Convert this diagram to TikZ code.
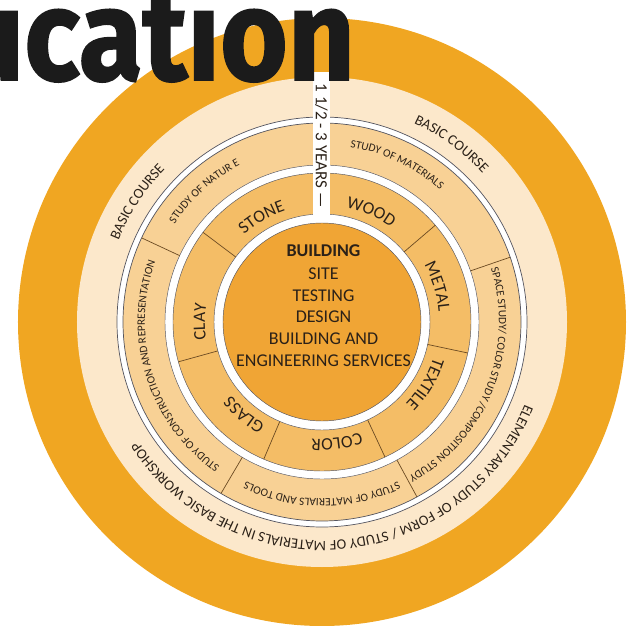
\documentclass[tikz,border=0pt]{standalone}
\usepackage{fontspec}
\setmainfont{Carlito}
\newfontfamily\titlefont{Fira Sans}[BoldFeatures={FakeBold=1.3}]
\usetikzlibrary{decorations.text}

\definecolor{outerorange}{HTML}{F0A622}
\definecolor{creamring}{HTML}{FCE8CB}
\definecolor{studyring}{HTML}{F8D195}
\definecolor{materialring}{HTML}{F4BD66}
\definecolor{corefill}{HTML}{F0A535}
\definecolor{labelink}{HTML}{2B2118}
\definecolor{edgeline}{HTML}{55555F}
\definecolor{dividerline}{HTML}{6B4A22}
\definecolor{titleink}{HTML}{1B1B1B}

\newcommand\courseft{\fontsize{14.5}{16}\selectfont}
\newcommand\studyft{\fontsize{11.3}{13}\selectfont}
\newcommand\materialft{\fontsize{17.5}{20}\selectfont}

% text set along a clockwise arc: radius, start angle, end angle, text
\newcommand\ringtext[4]{%
  \path[decorate, decoration={text along path, text align=center,
      text color=labelink, text={#4}}]
    (#2:#1) arc[start angle=#2, end angle=#3, radius=#1];}

\tikzset{
  ringedge/.style={draw=edgeline, line width=0.45pt},
  divider/.style={draw=dividerline, line width=0.7pt},
  corelabel/.style={anchor=base, inner sep=0pt, text=labelink,
      font=\fontsize{18}{20}\selectfont},
}

\begin{document}
\begin{tikzpicture}[x=1pt, y=1pt]
  \clip (-322,-304) rectangle (315,322);

  % concentric rings
  \fill[outerorange] (0,0) circle[radius=304pt];
  \fill[creamring] (0,0) circle[radius=245pt];
  \filldraw[fill=white, draw=edgeline, line width=0.7pt] (0,0) circle[radius=205pt];
  \filldraw[fill=studyring, draw=edgeline, line width=0.7pt] (0,0) circle[radius=199pt];
  \path[fill=white, ringedge] (0,0) circle[radius=157pt];
  \path[fill=materialring, ringedge] (0,0) circle[radius=149pt];
  \path[fill=white, ringedge] (0,0) circle[radius=108pt];
  \path[fill=corefill, ringedge] (0,0) circle[radius=99pt];

  % section dividers of the study ring
  \foreach \a in {155, 239.5, 298.5, 19}
    \draw[divider] (\a:157pt) -- (\a:199pt);
  % section dividers of the materials ring
  \foreach \a in {143, 195.5, 247, 295, 348, 40.5}
    \draw[divider] (\a:108pt) -- (\a:149pt);

  % duration bar
  \fill[white] (-9,107) rectangle (8,250);
  \node (years) [rotate=-90, inner sep=0pt, text=labelink,
      font=\fontsize{17}{19}\selectfont] at (-0.5,176.5) {1 1/2 - 3 YEARS —};

  % outer course ring
  \ringtext{219pt}{180}{114}{|\courseft|BASIC COURSE}
  \ringtext{219pt}{87}{21}{|\courseft|BASIC COURSE}
  \ringtext{219pt}{-5}{-164}{|\courseft|ELEMENTARY STUDY OF FORM / STUDY OF MATERIALS IN THE BASIC WORKSHOP}

  % study ring
  \ringtext{177pt}{152}{112}{|\studyft|STUDY OF NATUR E}
  \ringtext{177pt}{88}{41}{|\studyft|STUDY OF MATERIALS}
  \ringtext{177pt}{18}{-61}{|\studyft|SPACE STUDY/ COLOR STUDY /COMPOSITION STUDY}
  \ringtext{177pt}{-62}{-118}{|\studyft|STUDY OF MATERIALS AND TOOLS}
  \ringtext{177pt}{-121}{-204}{|\studyft|STUDY OF CONSTRUCTION AND REPRESENTATION}

  % materials ring
  \ringtext{117pt}{145}{95}{|\materialft|STONE}
  \ringtext{117pt}{90}{42}{|\materialft|WOOD}
  \ringtext{117pt}{40}{-6}{|\materialft|METAL}
  \ringtext{117pt}{-8}{-54}{|\materialft|TEXTILE}
  \ringtext{117pt}{-60}{-106}{|\materialft|COLOR}
  \ringtext{117pt}{-108}{-152}{|\materialft|GLASS}
  \ringtext{117pt}{205}{155}{|\materialft|CLAY}

  % core
  \node (core1) [corelabel] at (1.5,65) {\bfseries BUILDING};
  \node (core2) [corelabel] at (1.5,42) {SITE};
  \node (core3) [corelabel] at (1.5,20) {TESTING};
  \node (core4) [corelabel] at (1.5,-1) {DESIGN};
  \node (core5) [corelabel] at (1.5,-23) {BUILDING AND};
  \node (core6) [corelabel] at (1.5,-45) {ENGINEERING SERVICES};

  % heading
  \node (heading) [anchor=base east, inner sep=0pt, text=titleink,
      font=\titlefont\bfseries\fontsize{129}{129}\selectfont]
      at (33,242) {\scalebox{0.9}[1]{ucation}};
\end{tikzpicture}
\end{document}
